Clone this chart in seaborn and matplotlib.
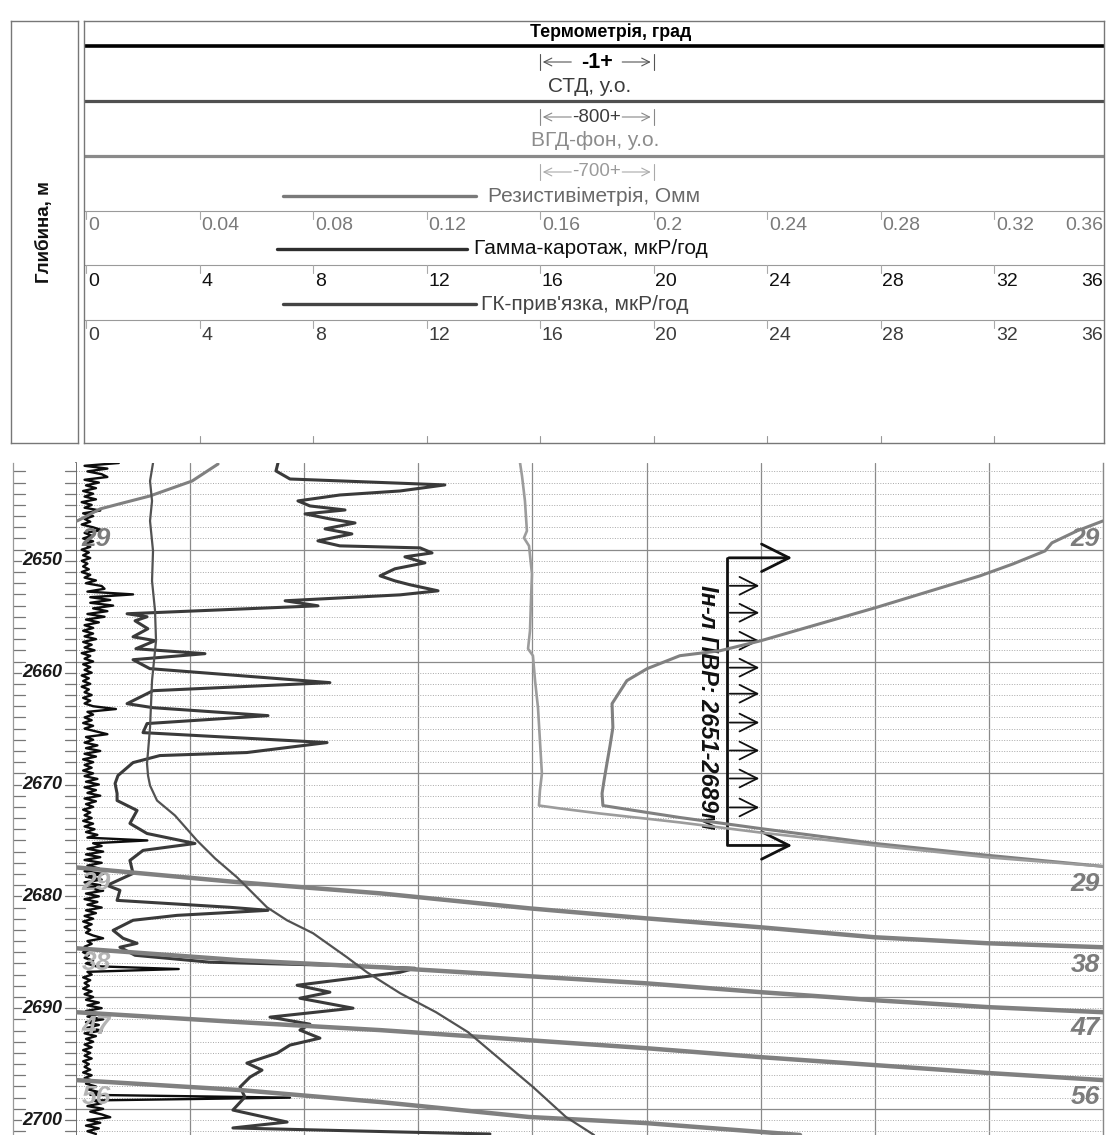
import numpy as np
import pandas as pd
import matplotlib
matplotlib.use("Agg")
import matplotlib.pyplot as plt
import seaborn as sns

sns.set_theme(style="white")
plt.rcParams['font.family'] = ['Liberation Sans', 'DejaVu Sans']

# ---------------------------------------------------------------- data
DEPTH_TOP, DEPTH_BOTTOM = 2641.25, 2701.34

gamma_ticks = [0, 4, 8, 12, 16, 20, 24, 28, 32, 36]
res_ticks = [0, 0.04, 0.08, 0.12, 0.16, 0.2, 0.24, 0.28, 0.32, 0.36]
depth_labels = [2650, 2660, 2670, 2680, 2690, 2700]

# ГК-прив'язка, мкР/год, sampled every 0.25 m from DEPTH_TOP
gk_link_step = 0.25
gk_link = [
    1.5, 0.3, 1.1, 0.4, 0.9, 1.1, 0.3, 0.8, 0.35, 0.7,
    0.25, 0.6, 0.3, 0.7, 0.2, 0.55, 0.3, 0.85, 0.25, 0.6,
    0.3, 0.5, 0.2, 0.6, 0.9, 0.3, 0.55, 0.25, 0.6, 0.3,
    0.5, 0.2, 0.45, 0.25, 0.5, 0.2, 0.4, 0.25, 0.45, 0.2,
    0.5, 0.3, 0.7, 0.35, 0.9, 1.0, 0.4, 2.0, 0.5, 1.2,
    0.5, 1.3, 0.6, 1.1, 0.4, 1.0, 0.35, 0.8, 0.3, 0.6,
    0.25, 0.6, 0.3, 0.7, 0.25, 0.55, 0.3, 0.65, 0.2, 0.5,
    0.3, 0.6, 0.25, 0.5, 0.3, 0.55, 0.2, 0.45, 0.25, 0.5,
    0.2, 0.45, 0.3, 0.55, 0.25, 0.5, 0.3, 0.6, 1.4, 0.4,
    0.6, 0.3, 0.55, 0.25, 0.6, 0.3, 0.7, 1.1, 0.35, 0.6,
    0.3, 0.75, 0.35, 0.85, 0.3, 0.7, 0.25, 0.6, 0.3, 0.55,
    0.25, 0.6, 0.3, 0.75, 0.35, 0.8, 0.3, 0.7, 0.4, 0.85,
    0.3, 0.7, 0.35, 0.6, 0.25, 0.5, 0.3, 0.55, 0.25, 0.6,
    0.3, 0.65, 0.35, 0.75, 0.4, 2.5, 0.6, 0.9, 0.4, 0.95,
    0.35, 0.85, 0.3, 0.9, 0.4, 0.8, 0.3, 0.95, 0.35, 0.9,
    0.3, 0.85, 0.4, 0.95, 0.35, 0.8, 0.3, 0.75, 0.4, 0.9,
    0.35, 0.7, 0.3, 0.6, 0.25, 0.55, 0.3, 0.5, 0.35, 0.6,
    0.95, 0.4, 0.55, 0.3, 0.5, 0.25, 0.45, 0.3, 0.6, 0.35,
    0.7, 3.6, 0.4, 0.55, 0.25, 0.5, 0.3, 0.45, 0.25, 0.55,
    0.3, 0.6, 0.35, 0.8, 0.4, 0.9, 0.35, 0.85, 0.4, 0.95,
    0.35, 0.8, 0.4, 0.9, 0.3, 0.7, 0.35, 0.6, 0.3, 0.55,
    0.25, 0.5, 0.3, 0.55, 0.25, 0.45, 0.3, 0.5, 0.25, 0.55,
    0.3, 0.6, 0.35, 0.7, 0.4, 0.8, 0.5, 7.5, 0.6, 0.9,
    0.4, 0.95, 0.5, 0.9, 1.2, 0.4, 0.85, 0.35, 0.8, 0.4, 0.7,
]

# Гамма-каротаж, мкР/год
gamma_depth = [
    2641.25, 2641.96, 2642.68, 2643.21, 2643.75, 2644.11, 2644.64, 2645.09, 2645.45, 2645.80,
    2646.25, 2646.61, 2647.14, 2647.59, 2648.21, 2648.66, 2648.84, 2649.29, 2649.64, 2650.18,
    2650.71, 2651.34, 2651.79, 2652.14, 2652.68, 2653.04, 2653.57, 2654.02, 2654.73, 2655.00,
    2655.36, 2656.07, 2656.79, 2657.14, 2657.86, 2658.30, 2658.84, 2659.64, 2660.89, 2661.61,
    2662.77, 2663.13, 2663.84, 2664.55, 2665.36, 2666.25, 2667.14, 2667.41, 2668.04, 2669.20,
    2669.91, 2670.80, 2671.43, 2672.32, 2673.48, 2674.38, 2675.27, 2675.89, 2676.79, 2677.95,
    2679.02, 2679.46, 2680.36, 2680.98, 2681.25, 2681.70, 2682.14, 2683.04, 2683.75, 2684.20,
    2684.55, 2685.27, 2685.89, 2686.16, 2686.43, 2686.79, 2687.95, 2688.57, 2689.11, 2690.00,
    2690.80, 2691.43, 2691.96, 2692.68, 2693.30, 2694.02, 2694.91, 2695.54, 2696.16, 2697.05,
    2697.95, 2699.11, 2700.18, 2700.71, 2701.07, 2701.25,
]
gamma_value = [
    7.08, 7.01, 7.50, 12.93, 11.36, 9.25, 7.78, 8.20, 9.43, 8.03,
    8.90, 9.78, 8.73, 9.67, 8.48, 9.25, 12.06, 12.48, 11.53, 12.23,
    11.18, 10.66, 11.18, 11.71, 12.69, 11.36, 7.33, 8.48, 1.79, 2.49,
    2.07, 2.52, 2.00, 2.77, 2.10, 4.52, 2.00, 2.59, 8.90, 2.70,
    1.79, 2.70, 6.73, 2.49, 2.35, 8.80, 5.99, 2.94, 2.00, 1.47,
    1.37, 1.44, 1.44, 2.14, 1.89, 2.49, 4.17, 2.35, 1.89, 2.00,
    1.09, 1.54, 1.44, 5.40, 6.73, 3.54, 2.00, 1.30, 1.65, 2.14,
    1.54, 2.07, 4.70, 8.90, 11.88, 11.36, 7.75, 8.90, 7.85, 9.71,
    6.80, 8.20, 7.85, 8.55, 7.50, 7.05, 5.99, 6.52, 6.10, 5.75,
    5.92, 5.50, 7.40, 5.50, 11.36, 14.51,
]

# СТД, у.о.
std_depth = [
    2641.25, 2642.86, 2644.64, 2646.43, 2649.11, 2651.79, 2654.46, 2657.14, 2660.71, 2664.91,
    2668.13, 2669.20, 2670.09, 2671.43, 2672.77, 2675.00, 2676.61, 2678.30, 2680.98, 2682.14,
    2683.30, 2685.45, 2686.79, 2688.66, 2690.36, 2692.14, 2694.64, 2697.05, 2699.73, 2701.34,
]
std_value = [
    540, 519, 533, 519, 540, 533, 554, 561, 533, 519,
    498, 505, 519, 568, 694, 848, 975, 1129, 1339, 1479,
    1662, 1900, 2040, 2272, 2524, 2748, 2980, 3204, 3435, 3632,
]

# ВГД-фон, у.о.
vgd_depth = [
    2641.25, 2642.41, 2644.64, 2647.32, 2647.95, 2648.66, 2651.16, 2653.57, 2656.25, 2657.86,
    2658.48, 2660.71, 2663.13, 2666.07, 2669.02, 2670.54, 2671.88, 2672.14, 2672.59, 2673.39,
    2674.29, 2675.45, 2676.52, 2677.32,
]
vgd_value = [
    2724, 2736, 2754, 2766, 2748, 2779, 2797, 2791, 2785, 2773,
    2803, 2816, 2834, 2846, 2858, 2846, 2840, 2969, 3214, 3705,
    4196, 4901, 5600, 6300,
]

# Резистивіметрія, Омм (each list is one pass across the 0-0.36 scale)
res_top_depth = [2641.34, 2642.86, 2644.20, 2644.82, 2645.36, 2646.16, 2646.43]
res_top_value = [0.0498, 0.0407, 0.0259, 0.0165, 0.0084, 0.0025, 0.0004]

res_main_depth = [
    2646.43, 2647.32, 2648.39, 2649.11, 2650.27, 2651.34, 2654.20, 2657.14, 2658.04, 2658.48,
    2659.64, 2660.71, 2662.77, 2664.91, 2666.52, 2668.13, 2669.64, 2670.80, 2671.88, 2672.50,
    2672.95, 2673.93, 2675.27, 2676.34, 2677.32,
]
res_main_value = [
    0.3600, 0.3509, 0.3421, 0.3397, 0.3285, 0.3169, 0.2801, 0.2401, 0.2257, 0.2117,
    0.2002, 0.1931, 0.1879, 0.1882, 0.1872, 0.1861, 0.1851, 0.1844, 0.1847, 0.2002,
    0.2117, 0.2397, 0.2801, 0.3200, 0.3600,
]

res_w1_depth = [2677.41, 2678.75, 2679.73, 2681.07, 2681.96, 2682.77, 2683.66, 2684.20, 2684.55]
res_w1_value = [0.0, 0.0575, 0.1066, 0.1588, 0.1995, 0.2401, 0.2801, 0.3200, 0.3600]
res_w2_depth = [2684.64, 2685.71, 2686.34, 2687.77, 2688.57, 2689.29, 2689.91, 2690.36]
res_w2_value = [0.0, 0.0575, 0.1066, 0.1995, 0.2401, 0.2801, 0.3200, 0.3600]
res_w3_depth = [2690.36, 2691.25, 2691.96, 2693.57, 2694.38, 2695.09, 2695.80, 2696.43]
res_w3_value = [0.0, 0.0575, 0.1066, 0.1995, 0.2401, 0.2801, 0.3200, 0.3600]
res_w4_depth = [2696.43, 2697.32, 2698.39, 2699.73, 2700.27, 2701.16, 2701.34]
res_w4_value = [0.0, 0.0575, 0.1066, 0.1588, 0.1995, 0.2450, 0.2538]

# scale offsets written at each pass boundary
pass_labels = ["29", "29", "38", "47", "56"]
pass_label_depth_right = [2648.04, 2678.93, 2686.16, 2691.79, 2697.95]
pass_label_depth_left = [2648.04, 2678.84, 2685.98, 2691.70, 2697.95]

# perforation interval marker
pvr_text = "Ін-л ПВР: 2651-2689м"
pvr_top, pvr_bottom = 2649.73, 2675.45
pvr_small = [2652.23, 2654.64, 2657.14, 2659.55, 2661.88, 2664.46, 2666.96, 2669.46, 2672.05]

# ---------------------------------------------------------------- figure
W, H = 1106, 1135
fig = plt.figure(figsize=(W / 100, H / 100), dpi=100)
fig.patch.set_facecolor("white")


def frect(x0, y0, x1, y1):
    return [x0 / W, 1 - y1 / H, (x1 - x0) / W, (y1 - y0) / H]


# ---------------------------------------------------------------- header
lax = fig.add_axes(frect(11, 21, 78, 443))
lax.set_xticks([]); lax.set_yticks([])
for s in lax.spines.values():
    s.set_color("#777777"); s.set_linewidth(1.0)
lax.text(0.5, 0.5, "Глибина, м", rotation=90, ha="center", va="center",
         fontsize=13.5, fontweight="bold", color="#111111", transform=lax.transAxes)

hax = fig.add_axes(frect(84, 21, 1104, 443))
hax.set_xlim((84 - 86) / 28.375, (1104 - 86) / 28.375)
hax.set_ylim(443, 21)
hax.set_xticks([]); hax.set_yticks([])
for s in hax.spines.values():
    s.set_color("#777777"); s.set_linewidth(1.0)

TXT = 15

# thermometry / STD / VGD blocks
hax.text(18.5, 32, "Термометрія, град", ha="center", va="center",
         fontsize=12.8, fontweight="bold", color="#000000")
hax.plot([-0.1, 36], [46, 46], color="#000000", lw=2.6, solid_capstyle="butt")
hax.text(17.75, 86, "СТД, у.о.", ha="center", va="center", fontsize=TXT, color="#3c3c3c")
hax.plot([-0.1, 36], [101, 101], color="#505050", lw=2.3, solid_capstyle="butt")
hax.text(17.95, 141, "ВГД-фон, у.о.", ha="center", va="center", fontsize=TXT, color="#8c8c8c")
hax.plot([-0.1, 36], [156, 156], color="#8a8a8a", lw=2.3, solid_capstyle="butt")


def bracket(y, label, color, weight, bar_color, size):
    hax.plot([16, 16], [y - 8, y + 8], color=bar_color, lw=0.8)
    hax.plot([20, 20], [y - 8, y + 8], color=bar_color, lw=0.8)
    hax.annotate("", xy=(16, y), xytext=(17.2, y),
                 arrowprops=dict(arrowstyle="->", color=bar_color, lw=0.8, mutation_scale=14))
    hax.annotate("", xy=(20, y), xytext=(18.8, y),
                 arrowprops=dict(arrowstyle="->", color=bar_color, lw=0.8, mutation_scale=14))
    hax.text(18.0, y, label, ha="center", va="center", fontsize=size,
             fontweight=weight, color=color)


bracket(62, "-1+", "#000000", "bold", "#555555", 15.5)
bracket(117, "-800+", "#3c3c3c", "normal", "#888888", 13.5)
bracket(172, "-700+", "#9a9a9a", "normal", "#aaaaaa", 13.5)

# legend samples
hax.plot([6.94, 13.74], [196, 196], color="#7a7a7a", lw=2.4, solid_capstyle="round")
hax.text(14.17, 196, "Резистивіметрія, Омм", ha="left", va="center", fontsize=TXT,
         color="#6a6a6a")
hax.plot([6.73, 13.43], [249, 249], color="#2e2e2e", lw=2.4, solid_capstyle="round")
hax.text(13.67, 249, "Гамма-каротаж, мкР/год", ha="left", va="center", fontsize=TXT,
         color="#111111")
hax.plot([6.94, 13.74], [304, 304], color="#444444", lw=2.4, solid_capstyle="round")
hax.text(13.92, 304, "ГК-прив'язка, мкР/год", ha="left", va="center", fontsize=TXT,
         color="#444444")

# scale rows
rows = [
    (211, 226, [f"{v:g}" for v in res_ticks], "#7a7a7a"),
    (265, 281, [f"{v:g}" for v in gamma_ticks], "#111111"),
    (320, 336, [f"{v:g}" for v in gamma_ticks], "#3c3c3c"),
]
for sep, ylab, labels, col in rows:
    hax.plot([-0.1, 36], [sep, sep], color="#9a9a9a", lw=0.8)
    for pos, lab in zip(gamma_ticks, labels):
        hax.plot([pos, pos], [sep, sep + 8], color="#aaaaaa", lw=0.8)
        if pos == gamma_ticks[-1]:
            hax.text(35.85, ylab, lab, ha="right", va="center", fontsize=14, color=col)
        else:
            hax.text(pos + 0.07, ylab, lab, ha="left", va="center", fontsize=14, color=col)
for pos in gamma_ticks[1:-1]:
    hax.plot([pos, pos], [443, 436], color="#999999", lw=0.8)

# ---------------------------------------------------------------- log track
ax = fig.add_axes(frect(76, 463, 1103, 1135))
ax.set_facecolor("white")
ax_res = ax.twiny()
ax_std = ax.twiny()
ax_vgd = ax.twiny()

dax = fig.add_axes(frect(13, 463, 76, 1135), sharey=ax)

# grid
for gx in gamma_ticks[1:-1]:
    ax.axvline(gx, color="#8a8a8a", lw=0.9, zorder=0)
for d in range(2642, 2702):
    if d % 10 == 9:
        ax.axhline(d, color="#8a8a8a", lw=0.9, zorder=0)
    else:
        ax.axhline(d, color="#a8a8a8", lw=0.7, ls=(0, (1, 1.6)), zorder=0)

# curves
gk_depth = DEPTH_TOP + gk_link_step * np.arange(len(gk_link))
logs = pd.DataFrame({"depth": gk_depth, "gk": gk_link})

sns.lineplot(x=vgd_value, y=vgd_depth, ax=ax_vgd, sort=False, estimator=None,
             color="#9c9c9c", linewidth=1.9)
sns.lineplot(x=std_value, y=std_depth, ax=ax_std, sort=False, estimator=None,
             color="#525252", linewidth=1.6)
for dep, val, lw in [
    (res_top_depth, res_top_value, 2.2),
    (res_main_depth, res_main_value, 2.2),
    (res_w1_depth, res_w1_value, 3.2),
    (res_w2_depth, res_w2_value, 3.2),
    (res_w3_depth, res_w3_value, 3.2),
    (res_w4_depth, res_w4_value, 3.2),
]:
    sns.lineplot(x=val, y=dep, ax=ax_res, sort=False, estimator=None,
                 color="#808080", linewidth=lw)
sns.lineplot(data=logs, x="gk", y="depth", ax=ax, sort=False, estimator=None,
             color="#0d0d0d", linewidth=1.7)
sns.lineplot(x=gamma_value, y=gamma_depth, ax=ax, sort=False, estimator=None,
             color="#3a3a3a", linewidth=2.2)

ax.set_xlim(0, 36)
ax_res.set_xlim(0, 0.36)
ax_std.set_xlim(0, 7200)
ax_vgd.set_xlim(0, 6300)
ax.set_ylim(DEPTH_BOTTOM, DEPTH_TOP)

for a in (ax_res, ax_std, ax_vgd):
    a.set_xlabel(""); a.set_ylabel("")
    a.axis("off")
ax.set_xlabel(""); ax.set_ylabel("")
ax.set_xticks([]); ax.set_yticks([])
ax.spines["top"].set_visible(False)
ax.spines["bottom"].set_visible(False)
ax.spines["left"].set_color("#555555"); ax.spines["left"].set_linewidth(1.2)
ax.spines["right"].set_color("#888888"); ax.spines["right"].set_linewidth(1.0)

# pass offset labels
for lab, dr in zip(pass_labels, pass_label_depth_right):
    ax.text(35.88, dr, lab, ha="right", va="center", fontsize=19, fontweight="bold",
            fontstyle="italic", color="#7c7c7c", zorder=5)
for i, (lab, dl) in enumerate(zip(pass_labels, pass_label_depth_left)):
    ax.text(0.2, dl, lab, ha="left", va="center", fontsize=19, fontweight="bold",
            fontstyle="italic", color="#7c7c7c" if i == 0 else "#b4b4b4", zorder=5)

# perforation interval
x_bar, x_small, x_big = 22.82, 24.05, 25.2
ax.plot([x_bar, x_bar], [pvr_top, pvr_bottom], color="#111111", lw=2.0, zorder=6)
for d in (pvr_top, pvr_bottom):
    ax.annotate("", xy=(x_big, d), xytext=(x_bar - 0.03, d), zorder=6,
                arrowprops=dict(arrowstyle="->,head_length=0.9,head_width=0.45",
                                color="#111111", lw=2.0, mutation_scale=22))
for d in pvr_small:
    ax.annotate("", xy=(x_small, d), xytext=(x_bar, d), zorder=6,
                arrowprops=dict(arrowstyle="->,head_length=0.8,head_width=0.4",
                                color="#111111", lw=1.3, mutation_scale=16))
ax.text(22.12, 2663.08, pvr_text, rotation=-90, ha="center", va="center", fontsize=17,
        fontweight="bold", fontstyle="italic", color="#111111", zorder=6)

# depth column
dax.set_xlim(0, 1)
dax.set_xticks([])
for s in ("top", "bottom", "right"):
    dax.spines[s].set_visible(False)
dax.spines["left"].set_color("#999999"); dax.spines["left"].set_linewidth(0.9)
for d in range(2642, 2702):
    dax.plot([0, 0.19], [d, d], color="#777777", lw=0.9)
    dax.plot([0.82, 1.0], [d, d], color="#777777", lw=0.9)
for d in depth_labels:
    dax.text(0.79, d, str(d), ha="right", va="center", fontsize=13, fontweight="bold",
             fontstyle="italic", color="#1a1a1a",
             bbox=dict(facecolor="white", edgecolor="none", pad=0.5))
dax.set_ylim(DEPTH_BOTTOM, DEPTH_TOP)
dax.tick_params(left=False, labelleft=False)

fig.savefig("out.png", dpi=100, facecolor="white")
